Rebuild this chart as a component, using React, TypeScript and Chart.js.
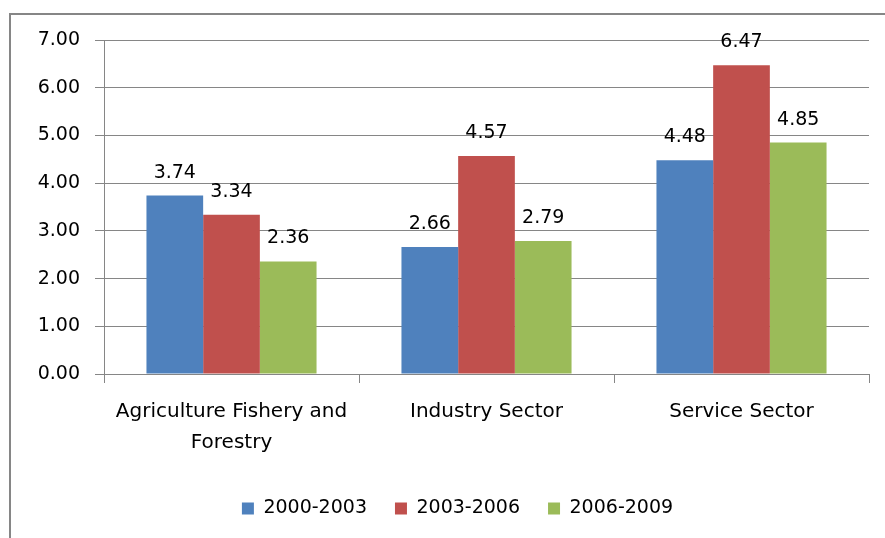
import React, { useEffect, useRef } from "react";
import { Chart, registerables } from "chart.js";

Chart.register(...registerables);

const categories: (string | string[])[] = [
  ["Agriculture Fishery and", "Forestry"],
  "Industry Sector",
  "Service Sector",
];
const seriesNames = ["2000-2003", "2003-2006", "2006-2009"];
const values2000_2003 = [3.74, 2.66, 4.48];
const values2003_2006 = [3.34, 4.57, 6.47];
const values2006_2009 = [2.36, 2.79, 4.85];
const colors = ["#4F81BD", "#C0504D", "#9BBB59"];
const yTicks = [0, 1, 2, 3, 4, 5, 6, 7];

const FONT = "'DejaVu Sans', Verdana, sans-serif";
const GRID = "#868686";

const dataLabelPlugin = {
  id: "dataLabels",
  afterDatasetsDraw(chart: any) {
    const ctx = chart.ctx;
    ctx.save();
    ctx.font = `19px ${FONT}`;
    ctx.fillStyle = "#000";
    ctx.textAlign = "center";
    ctx.textBaseline = "alphabetic";
    chart.data.datasets.forEach((ds: any, i: number) => {
      const meta = chart.getDatasetMeta(i);
      meta.data.forEach((bar: any, j: number) => {
        ctx.fillText(Number(ds.data[j]).toFixed(2), bar.x, bar.y - 18);
      });
    });
    ctx.restore();
  },
};

const legendShiftPlugin = {
  id: "legendShift",
  afterLayout(chart: any) {
    const lg = chart.legend;
    if (lg) {
      lg.left += 46;
      lg.top -= 3;
      lg.bottom -= 3;
    }
  },
};

export default function App() {
  const ref = useRef<HTMLCanvasElement>(null);
  useEffect(() => {
    if (!ref.current) return;
    const seriesValues = [values2000_2003, values2003_2006, values2006_2009];
    const chart = new Chart(ref.current, {
      type: "bar",
      data: {
        labels: categories,
        datasets: seriesNames.map((name, i) => ({
          label: name,
          data: seriesValues[i],
          backgroundColor: colors[i],
          borderWidth: 0,
          categoryPercentage: 0.667,
          barPercentage: 1,
        })),
      },
      options: {
        responsive: false,
        animation: false,
        devicePixelRatio: 1,
        layout: { padding: { left: 0, right: 16, top: 40, bottom: 7 } },
        plugins: {
          tooltip: { enabled: false },
          legend: {
            position: "bottom",
            labels: {
              boxWidth: 12,
              boxHeight: 12,
              padding: 28,
              color: "#000",
              font: { family: FONT, size: 19 },
            },
          },
        },
        scales: {
          x: {
            offset: true,
            grid: {
              display: true,
              drawOnChartArea: false,
              offset: true,
              tickLength: 9,
              color: GRID,
            },
            border: { color: GRID },
            ticks: {
              color: "#000",
              font: { family: FONT, size: 20, lineHeight: 1.55 },
              padding: 13,
              maxRotation: 0,
              autoSkip: false,
            },
            afterFit: (s: any) => {
              s.height = 100;
            },
          },
          y: {
            min: 0,
            max: 7,
            afterBuildTicks: (s: any) => {
              s.ticks = yTicks.map((v) => ({ value: v }));
            },
            grid: { color: GRID, tickLength: 9 },
            border: { color: GRID },
            ticks: {
              color: "#000",
              font: { family: FONT, size: 19 },
              padding: 15,
              callback: (v: any) => Number(v).toFixed(2),
            },
            afterFit: (s: any) => {
              s.width = 104;
            },
          },
        },
      },
      plugins: [dataLabelPlugin, legendShiftPlugin],
    });
    return () => chart.destroy();
  }, []);
  return (
    <div
      style={{
        position: "fixed",
        left: 0,
        top: 0,
        width: 885,
        height: 538,
        background: "#fff",
        overflow: "hidden",
      }}
    >
      <div
        style={{
          position: "absolute",
          left: 9,
          top: 13,
          width: 900,
          height: 600,
          borderLeft: "2px solid #868686",
          borderTop: "2px solid #868686",
        }}
      />
      <canvas
        ref={ref}
        width={885}
        height={538}
        style={{ position: "absolute", left: 0, top: 0, display: "block" }}
      />
    </div>
  );
}
